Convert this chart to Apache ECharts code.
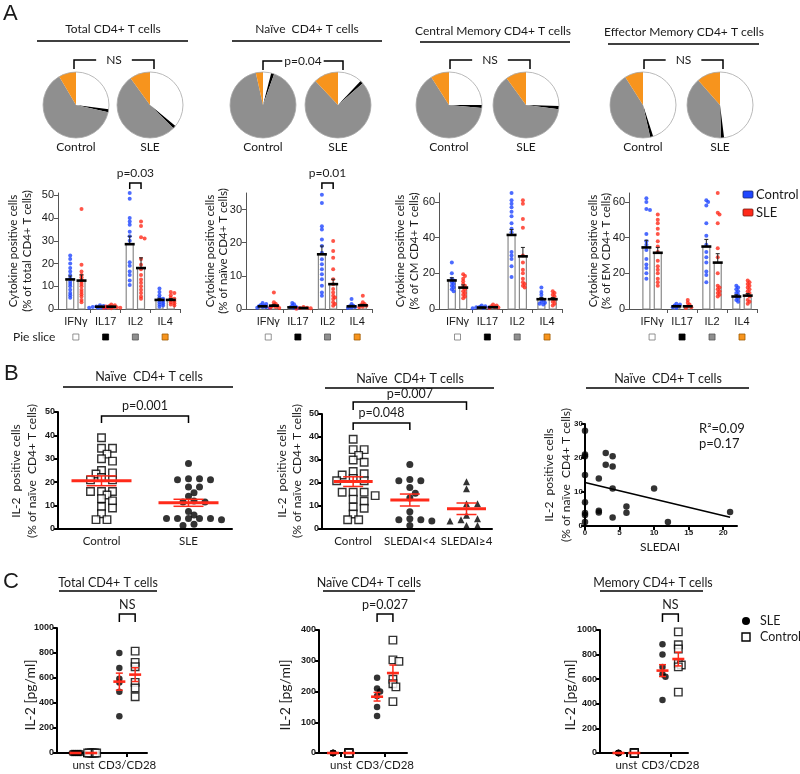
<!DOCTYPE html>
<html><head><meta charset="utf-8">
<script src="https://cdn.jsdelivr.net/npm/echarts@6/dist/echarts.min.js"></script>
<style>html,body{margin:0;padding:0;background:#fff}#c{width:800px;height:774px}</style>
</head><body><div id="c"></div>
<script>
// ---------------- DATA ----------------
const cytokines = ['IFNγ', 'IL17', 'IL2', 'IL4'];
const subsetTitles = ['Total CD4+ T cells', 'Naïve  CD4+ T cells', 'Central Memory CD4+ T cells', 'Effector Memory CD4+ T cells'];
const pieGroupLabels = ['Control', 'SLE'];
// pie fractions (%) in order IFNγ, IL17, IL2, IL4
const pieControl = [[27, 1.5, 63, 8.5], [4, 1.5, 91, 3.5], [25, 1.5, 64.5, 9], [45, 1.5, 44.5, 9]];
const pieSLE = [[36, 1.5, 52.5, 10], [12, 1.5, 74.5, 12], [25.5, 1.5, 63, 10], [48, 1.5, 39, 11.5]];
const piePvalues = ['NS', 'p=0.04', 'NS', 'NS'];

// bar means / SEM per subset [IFNγ, IL17, IL2, IL4]
const barMeanControl = [[13, 1, 28.5, 4], [0.8, 0.5, 16.5, 0.8], [16, 0.8, 41.5, 5.5], [34.5, 1.5, 35, 7]];
const barMeanSLE = [[12.5, 1, 18, 4], [1, 0.3, 7.5, 1.1], [12, 1, 29.5, 5.5], [31.5, 1.5, 26, 7.5]];
const barSemControl = [[1.5, 0.2, 3.5, 0.7], [0.2, 0.2, 2.5, 0.3], [1.5, 0.2, 3, 1], [4, 0.3, 4, 1]];
const barSemSLE = [[2.5, 0.2, 4.5, 0.6], [0.4, 0.1, 1.5, 0.3], [1.5, 0.2, 5, 0.9], [3, 0.4, 5, 1.2]];
const yTitleA = ['(% of total CD4+ T cells)', '(% of naïve CD4+ T cells)', '(% of CM CD4+ T cells)', '(% of EM CD4+ T cells)'];
const barPvalues = ['p=0.03', 'p=0.01', null, null];

const dotsTotalControl = [[23.5, 22, 20, 18, 16.5, 15, 13.5, 12, 11, 10, 8.5, 7, 6, 5], [1.6, 1.3, 1.1, 1, 0.9, 0.8, 0.7, 0.6, 0.5, 0.4], [51, 48.5, 40, 38.5, 37, 34, 32, 30, 20.5, 19, 16.5, 15, 12.5, 10.5], [9, 7.5, 6, 5, 4.5, 4, 3.5, 3, 2.5, 2, 1.5, 1]];
const dotsTotalSLE = [[44, 19.5, 16.5, 15, 14, 13, 12, 11, 10, 8.5, 7.5, 6.5, 5.5, 4, 3], [2, 1.6, 1.3, 1.1, 0.9, 0.8, 0.6, 0.5, 0.4, 0.3], [38.5, 36.5, 31.5, 31, 22, 19.5, 17.5, 15, 13, 11.5, 10, 8.5, 7, 5.5, 4.5], [7.5, 7, 6, 5, 4.5, 4, 3.5, 3, 2.5, 2, 1.5]];
const dotsNaiveControl = [[1.8, 1.5, 1.2, 1, 0.8, 0.6, 0.5, 0.4, 0.3], [1.8, 1.4, 1, 0.7, 0.5, 0.3, 0.2], [34.5, 32, 25, 24, 21, 19, 17, 15, 13.5, 12, 10.5, 9, 7, 5, 4], [3, 1.5, 1, 0.8, 0.6, 0.4, 0.3]];
const dotsNaiveSLE = [[5, 2, 1.6, 1.2, 1, 0.8, 0.6, 0.4, 0.3], [0.6, 0.4, 0.3, 0.2, 0.1], [20.5, 17.5, 15.5, 12, 9, 7.5, 6, 5, 4, 3.5, 3, 2, 1.5, 1], [4, 2, 1.5, 1.2, 1, 0.7, 0.5]];
const dotsCMControl = [[26, 20, 17, 16, 15, 14, 13, 12, 11, 10], [2, 1.5, 1.2, 1, 0.8, 0.6, 0.4], [65, 61, 59, 57, 54.5, 52, 48, 45, 43, 32, 30, 28, 24, 18], [12, 9.5, 8, 6, 5, 4, 3.5, 3, 2.5]];
const dotsCMSLE = [[19.5, 18.5, 17, 15.5, 14, 13, 12, 11, 10, 9, 8, 7, 6], [2.5, 2, 1.5, 1, 0.8, 0.5], [61, 59, 50.5, 45.5, 30, 26, 22, 20, 17, 15, 14, 13, 12], [10, 9, 8, 7, 6, 5, 4, 3, 2]];
const dotsEMControl = [[62, 60, 56, 55.5, 42, 38, 36, 33, 28, 25, 23, 20, 17], [3, 2.5, 2, 1.5, 1, 0.5], [61, 60, 58, 48, 41, 36, 32, 29, 26, 21, 19, 15], [13, 12, 11, 10, 9, 8, 7, 6, 5, 4]];
const dotsEMSLE = [[53, 50, 48, 45, 42, 38, 35, 32, 27, 24, 22, 20, 17, 15, 13], [5, 3.5, 2.5, 1.5, 1, 0.5], [65, 54, 53, 48, 34, 29, 20, 13, 12, 11, 10, 9, 8, 7], [16, 15, 14, 13, 12, 11, 10, 9, 8, 7, 5, 4, 3]];

// Panel B
const bGroups1 = ['Control', 'SLE'];
const bGroups2 = ['Control', 'SLEDAI<4', 'SLEDAI≥4'];
const bControl = [39, 34.5, 34.5, 32, 30, 29, 25, 24, 23.5, 22, 21, 21, 16, 16, 16, 14.5, 13, 12, 9.5, 9, 6.5, 4, 4];
const bSLE = [28, 21.5, 21.5, 21, 21, 18, 18, 15.5, 14, 12, 11.5, 11.5, 7.5, 6, 4.5, 4.5, 4.5, 4.5, 4.5, 4, 2, 1.5];
const bSledaiLow = [28, 21.5, 21, 21, 18, 15.5, 13.5, 7.5, 4.5, 4, 4, 3.5, 1.5];
const bSledaiHigh = [20.5, 17.5, 11, 11, 6, 4.5, 4, 3.5, 1.5, 1.5];
const bMeans1 = [20.6, 11.2], bSem1 = [2.1, 1.5];
const bMeans2 = [20.6, 12.6, 8.8], bSem2 = [2.1, 2.6, 2.5];
const corrSledai = [0, 0, 0, 0, 0, 0, 0, 0, 2, 2, 2, 3, 3, 4, 4, 4, 4, 6, 6, 10, 12, 21];
const corrIL2 = [28, 21, 20.5, 15, 7, 3.8, 3.2, 1.2, 14, 4.5, 4, 21.5, 18, 20.5, 17.5, 11, 2.5, 5.7, 3.9, 11, 1.2, 4.1];
const regIntercept = 12.8, regSlope = -0.486, regXmax = 21;

// Panel C
const cCats = ['unst', 'CD3/CD28'];
const cTitles = ['Total CD4+ T cells', 'Naïve CD4+ T cells', 'Memory CD4+ T cells'];
const cPvalues = ['NS', 'p=0.027', 'NS'];
const cUnstSLE = [[0, 0, 0, 0, 0, 0], [0, 0, 0, 0, 0, 0], [0, 0, 0, 0, 0, 0]];
const cUnstControl = [[0, 0, 0, 0, 0, 0], [0, 0, 0, 0, 0, 0], [0, 0, 0, 0, 0, 0]];
const cStimSLE = [[800, 680, 595, 565, 490, 295], [245, 210, 200, 185, 150, 120], [885, 800, 700, 640, 620, 430]];
const cStimControl = [[815, 725, 690, 565, 520, 450], [367, 303, 298, 240, 225, 215, 167], [985, 880, 845, 730, 715, 700, 495]];
const cMeanSLE = [571, 183, 670], cSemSLE = [68, 14, 48];
const cMeanControl = [627, 260, 764], cSemControl = [55, 26, 56];

// ---------------- STYLE / LAYOUT ----------------
const FT = 'Lato, "Open Sans", sans-serif';
const FA = '"Liberation Sans", Arial, sans-serif';
const BLUE = '#1f46ff', RED = '#ff2a1a';
const PIE_COLORS = ['#ffffff', '#000000', '#8f8f8f', '#f7941d'];

const chart = echarts.init(document.getElementById('c'), null, {renderer: 'canvas', width: 800, height: 774});
const grid = [], xAxis = [], yAxis = [], series = [];

function swarm(vals, pxY, minDist, step) {
  const order = vals.map((v, i) => i).sort((a, b) => vals[b] - vals[a]);
  const placed = [], out = [];
  order.forEach(i => {
    const y = vals[i] * pxY; let x = 0;
    if (step > 0) {
      for (let j = 0; j < 60; j++) {
        const c = j === 0 ? 0 : (j % 2 ? 1 : -1) * Math.ceil(j / 2) * step;
        if (placed.every(p => Math.hypot(p.x - c, p.y - y) >= minDist)) { x = c; break; }
      }
    }
    placed.push({x, y}); out[i] = x;
  });
  return out;
}

function valAxis(gi, min, max, ticks, o) {
  o = o || {};
  return {
    gridIndex: gi, type: 'value', min, max, splitLine: {show: false},
    axisLine: {show: o.line !== false, onZero: false, lineStyle: {color: o.color || '#555', width: o.lw || 1}},
    axisTick: {show: !!o.ticks, customValues: o.ticks || [], length: 4, lineStyle: {color: o.color || '#555', width: o.lw || 1}},
    axisLabel: {show: !!ticks, customValues: ticks || [], formatter: o.fmt || (v => String(v)), fontSize: o.fs || 11, fontWeight: o.bold ? 'bold' : 'normal',
      color: '#1a1a1a', fontFamily: o.ff || FA, margin: o.margin || 5}
  };
}

function renderBarRect(p, api) {
  const x = api.value(0), m = api.value(1);
  const b = api.coord([x, 0]), t = api.coord([x, m]); const w = 7;
  return {type: 'rect', shape: {x: b[0] - w / 2, y: t[1], width: w, height: b[1] - t[1]}, style: {fill: '#fff', stroke: '#8a8a8a', lineWidth: 1.2}};
}
function renderBarMean(p, api) {
  const x = api.value(0), m = api.value(1), s = api.value(2);
  const c = api.coord([x, m]), t = api.coord([x, m + s]); const w = 7;
  return {type: 'group', children: [
    {type: 'line', shape: {x1: c[0], y1: c[1], x2: c[0], y2: t[1]}, style: {stroke: '#222', lineWidth: 1}},
    {type: 'line', shape: {x1: c[0] - 2, y1: t[1], x2: c[0] + 2, y2: t[1]}, style: {stroke: '#222', lineWidth: 1}},
    {type: 'line', shape: {x1: c[0] - w / 2 - 1.5, y1: c[1], x2: c[0] + w / 2 + 1.5, y2: c[1]}, style: {stroke: '#000', lineWidth: 2.6}}
  ]};
}
function meanSem(meanW, capW, lwMean, lwSem) {
  return function (p, api) {
    const x = api.value(0), m = api.value(1), s = api.value(2);
    const c = api.coord([x, m]), t = api.coord([x, m + s]), b = api.coord([x, m - s]);
    const st = () => ({stroke: RED, lineWidth: lwSem});
    return {type: 'group', children: [
      {type: 'line', shape: {x1: c[0], y1: t[1], x2: c[0], y2: b[1]}, style: st()},
      {type: 'line', shape: {x1: c[0] - capW / 2, y1: t[1], x2: c[0] + capW / 2, y2: t[1]}, style: st()},
      {type: 'line', shape: {x1: c[0] - capW / 2, y1: b[1], x2: c[0] + capW / 2, y2: b[1]}, style: st()},
      {type: 'line', shape: {x1: c[0] - meanW / 2, y1: c[1], x2: c[0] + meanW / 2, y2: c[1]}, style: {stroke: RED, lineWidth: lwMean}}
    ]};
  };
}

// ---- Panel A pies ----
const pieCenters = [[76, 105], [150, 105], [263, 105], [338, 105], [449, 105], [526, 105], [643, 105], [720, 105]];
const PIE_R = 33;
for (let k = 0; k < 4; k++) {
  [pieControl[k], pieSLE[k]].forEach((vals, j) => {
    series.push({type: 'pie', center: pieCenters[k * 2 + j], radius: PIE_R, startAngle: 90, clockwise: true, silent: true,
      label: {show: false}, labelLine: {show: false}, emphasis: {disabled: true},
      data: vals.map((v, i) => ({value: v, name: cytokines[i], itemStyle: {color: PIE_COLORS[i], borderWidth: 0}}))});
  });
}

// ---- Panel A bars ----
const aLay = [{left: 58, width: 122, xmin: -0.1}, {left: 246, width: 126, xmin: -0.25}, {left: 439, width: 123, xmin: -0.12}, {left: 629, width: 128, xmin: -0.27}];
const A_TOP = 193, A_H = 116, A_XMAX = 4, BAR_OFF = 0.19;
const aYMax = [51, 35, 65, 65];
const aYTicks = [[0, 10, 20, 30, 40, 50], [0, 10, 20, 30], [0, 20, 40, 60], [0, 20, 40, 60]];
const ctrlDots = [dotsTotalControl, dotsNaiveControl, dotsCMControl, dotsEMControl];
const sleDots = [dotsTotalSLE, dotsNaiveSLE, dotsCMSLE, dotsEMSLE];
aLay.forEach((L, k) => {
  const gi = grid.length;
  grid.push({left: L.left, top: A_TOP, width: L.width, height: A_H});
  xAxis.push(valAxis(gi, L.xmin, A_XMAX, [0.5, 1.5, 2.5, 3.5], {ticks: [1, 2, 3, 4], fmt: v => cytokines[Math.floor(v)], margin: 7}));
  yAxis.push(valAxis(gi, 0, aYMax[k], aYTicks[k], {ticks: aYTicks[k], margin: 4}));
  const unitX = L.width / (A_XMAX - L.xmin), unitY = A_H / aYMax[k];
  [[barMeanControl, barSemControl, ctrlDots, -1, BLUE], [barMeanSLE, barSemSLE, sleDots, 1, RED]].forEach(([M, S, D, sgn, col]) => {
    const data = cytokines.map((c, i) => [i + 0.5 + sgn * BAR_OFF, M[k][i], S[k][i]]);
    series.push({type: 'custom', xAxisIndex: gi, yAxisIndex: gi, renderItem: renderBarRect, data, z: 1, silent: true, encode: {x: 0, y: 1}});
    series.push({type: 'custom', xAxisIndex: gi, yAxisIndex: gi, renderItem: renderBarMean, data, z: 4, silent: true, encode: {x: 0, y: 1}});
    const pts = [];
    D[k].forEach((vals, i) => {
      const off = swarm(vals, unitY, 2.2, 1.8);
      vals.forEach((v, j) => pts.push([i + 0.5 + sgn * BAR_OFF + off[j] / unitX, v]));
    });
    series.push({type: 'scatter', xAxisIndex: gi, yAxisIndex: gi, data: pts, symbol: 'circle', symbolSize: 4, itemStyle: {color: col}, z: 3, silent: true});
  });
});

// ---- Panel B ----
const bAxisOpt = (ticks) => ({ticks, bold: true, fs: 9, lw: 2, color: '#000', margin: 3});
function addGroupScatter(gi, vals, pos, unitX, unitY, symbol, size, filled, minD, step) {
  const off = swarm(vals, unitY, minD, step);
  series.push({type: 'scatter', xAxisIndex: gi, yAxisIndex: gi, silent: true, z: 3, symbol, symbolSize: size,
    itemStyle: filled ? {color: '#000'} : {color: '#fff', borderColor: '#000', borderWidth: 1.4},
    data: vals.map((v, j) => [pos + off[j] / unitX, v])});
}
// B1
{
  const gi = grid.length, W = 174, H = 117, xmin = -0.5, xmax = 1.5;
  grid.push({left: 58, top: 412, width: W, height: H});
  xAxis.push(valAxis(gi, xmin, xmax, [0, 1], {fmt: v => bGroups1[v], ff: FT, fs: 11.5, lw: 2, color: '#000', margin: 6}));
  yAxis.push(valAxis(gi, 0, 50, [0, 10, 20, 30, 40, 50], bAxisOpt([0, 10, 20, 30, 40, 50])));
  const ux = W / (xmax - xmin), uy = H / 50;
  addGroupScatter(gi, bControl, 0, ux, uy, 'rect', 7.5, false, 6.5, 5.5);
  addGroupScatter(gi, bSLE, 1, ux, uy, 'circle', 7, true, 6.5, 5.5);
  series.push({type: 'custom', xAxisIndex: gi, yAxisIndex: gi, silent: true, z: 6, renderItem: meanSem(60, 30, 3, 1.5),
    data: bMeans1.map((m, i) => [i, m, bSem1[i]]), encode: {x: 0, y: 1}});
}
// B2
{
  const gi = grid.length, W = 170, H = 115, xmin = -0.55, xmax = 2.45;
  grid.push({left: 322, top: 414, width: W, height: H});
  xAxis.push(valAxis(gi, xmin, xmax, [0, 1, 2], {fmt: v => bGroups2[v], ff: FT, fs: 11.5, lw: 2, color: '#000', margin: 6}));
  yAxis.push(valAxis(gi, 0, 50, [0, 10, 20, 30, 40, 50], bAxisOpt([0, 10, 20, 30, 40, 50])));
  const ux = W / (xmax - xmin), uy = H / 50;
  addGroupScatter(gi, bControl, 0, ux, uy, 'rect', 7.5, false, 6.5, 5.5);
  addGroupScatter(gi, bSledaiLow, 1, ux, uy, 'circle', 7, true, 6.5, 5.5);
  addGroupScatter(gi, bSledaiHigh, 2, ux, uy, 'triangle', 7, true, 6.5, 5.5);
  series.push({type: 'custom', xAxisIndex: gi, yAxisIndex: gi, silent: true, z: 6, renderItem: meanSem(39, 20, 3, 1.5),
    data: bMeans2.map((m, i) => [i, m, bSem2[i]]), encode: {x: 0, y: 1}});
}
// B3
{
  const gi = grid.length;
  grid.push({left: 585, top: 424, width: 152, height: 102});
  xAxis.push(valAxis(gi, 0, 22, [0, 5, 10, 15, 20], {ticks: [0, 5, 10, 15, 20], bold: true, fs: 8, lw: 2, color: '#000', margin: 3}));
  yAxis.push(valAxis(gi, 0, 30, [0, 10, 20, 30], {ticks: [0, 10, 20, 30], bold: true, fs: 8, lw: 2, color: '#000', margin: 2}));
  series.push({type: 'scatter', xAxisIndex: gi, yAxisIndex: gi, silent: true, z: 3, symbol: 'circle', symbolSize: 6.5, itemStyle: {color: '#000'},
    data: corrSledai.map((x, i) => [x, corrIL2[i]])});
  series.push({type: 'line', xAxisIndex: gi, yAxisIndex: gi, silent: true, z: 2, symbol: 'none', lineStyle: {color: '#000', width: 1.6},
    data: [[0, regIntercept], [regXmax, regIntercept + regSlope * regXmax]]});
}

// ---- Panel C ----
const cLay = [{left: 57, top: 628, width: 90, xmin: -0.6, xmax: 1.45, ymax: 1000, ticks: [0, 200, 400, 600, 800, 1000], unstStep: 1.8},
              {left: 319, top: 630, width: 88, xmin: -0.5, xmax: 1.5, ymax: 400, ticks: [0, 100, 200, 300, 400], unstStep: 0},
              {left: 600, top: 630, width: 88, xmin: -0.6, xmax: 1.4, ymax: 1000, ticks: [0, 200, 400, 600, 800, 1000], unstStep: 0}];
const C_BOTTOM = 753, C_OFF = 0.18;
cLay.forEach((L, k) => {
  const gi = grid.length, H = C_BOTTOM - L.top;
  grid.push({left: L.left, top: L.top, width: L.width, height: H});
  xAxis.push(valAxis(gi, L.xmin, L.xmax, [0, 1], {ticks: [0, 1], fmt: v => cCats[v], ff: FT, fs: 11.5, lw: 2, color: '#000', margin: 6}));
  yAxis.push(valAxis(gi, 0, L.ymax, L.ticks, {ticks: L.ticks, bold: true, fs: 9, lw: 2, color: '#000', margin: 3}));
  const ux = L.width / (L.xmax - L.xmin), uy = H / L.ymax;
  const sleVals = [cUnstSLE[k], cStimSLE[k]], ctlVals = [cUnstControl[k], cStimControl[k]];
  [0, 1].forEach(c => {
    const st = c === 0 ? L.unstStep : 3;
    addGroupScatter(gi, sleVals[c], c - C_OFF, ux, uy, 'circle', 6.5, true, st ? Math.max(st, 3.5) * (c === 0 ? 0.5 : 1) : 0, st);
    addGroupScatter(gi, ctlVals[c], c + C_OFF, ux, uy, 'rect', 7.5, false, st ? Math.max(st, 3.5) * (c === 0 ? 0.5 : 1) : 0, st);
  });
  series.push({type: 'custom', xAxisIndex: gi, yAxisIndex: gi, silent: true, z: 6, renderItem: meanSem(12, 7, 2.6, 1.5), encode: {x: 0, y: 1},
    data: [[0 - C_OFF, 0, 0], [0 + C_OFF, 0, 0], [1 - C_OFF, cMeanSLE[k], cSemSLE[k]], [1 + C_OFF, cMeanControl[k], cSemControl[k]]]});
});

chart.setOption({animation: false, backgroundColor: '#fff', grid, xAxis, yAxis, series});

// ---------------- ANNOTATIONS ----------------
const G = [];
function T(x, y, text, size, extra) {
  extra = extra || {};
  return Object.assign({type: 'text', x, y, z: 20, silent: true,
    style: Object.assign({text, fontSize: size, fontFamily: FT, fill: '#1a1a1a', align: 'center', verticalAlign: 'middle', textAlign: 'center', textVerticalAlign: 'middle'}, extra.style || {})}, extra.el || {});
}
function Ln(x1, y1, x2, y2, w, c) { return {type: 'line', z: 15, silent: true, shape: {x1, y1, x2, y2}, style: {stroke: c || '#000', lineWidth: w || 1.5}}; }
function Br(x1, x2, y, leg, w) { return {type: 'polyline', z: 15, silent: true, shape: {points: [[x1, y + leg], [x1, y], [x2, y], [x2, y + leg]]}, style: {stroke: '#000', lineWidth: w || 1.5, fill: null}}; }
const px = (gi, x, y) => chart.convertToPixel({gridIndex: gi}, [x, y]);

// panel letters
G.push(T(3, 14, 'A', 22, {style: {fontFamily: FA, align: 'left', textAlign: 'left'}}));
G.push(T(4, 374, 'B', 22, {style: {fontFamily: FA, align: 'left', textAlign: 'left'}}));
G.push(T(3, 582, 'C', 22, {style: {fontFamily: FA, align: 'left', textAlign: 'left'}}));

// A titles
const aTitlePos = [[113, 29, 37, 188, 41], [307, 29, 232, 382, 41], [493, 31, 420, 570, 42], [684, 32, 608, 759, 44]];
const pieBr = [[74, 154, 60], [263, 343, 61], [450, 530, 60], [644, 723, 60]];
aTitlePos.forEach((p, k) => {
  G.push(T(p[0], p[1], subsetTitles[k], 12));
  G.push(Ln(p[2], p[4], p[3], p[4], 1.6));
  const b = pieBr[k];
  G.push(Br(b[0], b[1], b[2], 9, 1.5));
  G.push(T((b[0] + b[1]) / 2, b[2], piePvalues[k], 12, {style: {backgroundColor: '#fff', padding: piePvalues[k] === 'NS' ? [1, 10] : [1, 2]}}));
  [0, 1].forEach(j => {
    const c = pieCenters[k * 2 + j];
    G.push({type: 'circle', z: 12, silent: true, shape: {cx: c[0], cy: c[1], r: PIE_R}, style: {fill: null, stroke: '#a8a8a8', lineWidth: 0.8}});
    G.push(T(c[0], 147, pieGroupLabels[j], 12));
  });
});

// A axis titles, pvalues, pie-slice row
const aYT = [[13, 27], [210, 223], [400, 414], [593, 606]];
aLay.forEach((L, k) => {
  G.push(T(aYT[k][0], 251, 'Cytokine positive cells', 11.5, {el: {rotation: Math.PI / 2}}));
  G.push(T(aYT[k][1], 251, yTitleA[k], 11.5, {el: {rotation: Math.PI / 2}}));
  if (barPvalues[k]) {
    const x1 = px(k, 2.5 - BAR_OFF, 0)[0], x2 = px(k, 2.5 + BAR_OFF, 0)[0];
    G.push(Br(x1, x2, 183, 6, 1.5));
    G.push(T((x1 + x2) / 2, 173, barPvalues[k], 12));
  }
  const sq = [['#fff', '#777'], ['#000', '#000'], ['#8f8f8f', '#555'], ['#f7941d', '#a05a00']];
  cytokines.forEach((c, i) => {
    const x = px(k, i + 0.5, 0)[0];
    G.push({type: 'rect', z: 12, silent: true, shape: {x: x - 3, y: 334, width: 6, height: 6}, style: {fill: sq[i][0], stroke: sq[i][1], lineWidth: 0.8}});
  });
});
G.push(T(13, 337, 'Pie slice', 12, {style: {align: 'left', textAlign: 'left'}}));
// A legend
G.push({type: 'rect', z: 12, silent: true, shape: {x: 743, y: 191, width: 10, height: 7, r: 1}, style: {fill: BLUE, stroke: '#1a2a70', lineWidth: 0.8}});
G.push(T(756, 195, 'Control', 13, {style: {align: 'left', textAlign: 'left'}}));
G.push({type: 'rect', z: 12, silent: true, shape: {x: 743, y: 209, width: 10, height: 7, r: 1}, style: {fill: RED, stroke: '#7a1a10', lineWidth: 0.8}});
G.push(T(756, 213, 'SLE', 13, {style: {align: 'left', textAlign: 'left'}}));

// B titles
[[149, 377, 63, 233, 387], [410, 379, 325, 494, 388], [668, 379, 586, 749, 388]].forEach(p => {
  G.push(T(p[0], p[1], 'Naïve  CD4+ T cells', 12.5));
  G.push(Ln(p[2], p[4], p[3], p[4], 1.6));
});
[[16, 32, 471], [282, 297, 471], [549, 566, 475]].forEach(p => {
  G.push(T(p[0], p[2], 'IL-2  positive cells', 12, {el: {rotation: Math.PI / 2}}));
  G.push(T(p[1], p[2], '(% of naïve  CD4+ T cells)', 12, {el: {rotation: Math.PI / 2}}));
});
{
  const a = px(4, 0, 0)[0], b = px(4, 1, 0)[0];
  G.push(Br(a, b, 416, 7, 1.5)); G.push(T((a + b) / 2, 406, 'p=0.001', 12.5));
  const c0 = px(5, 0, 0)[0], c1 = px(5, 1, 0)[0], c2 = px(5, 2, 0)[0];
  G.push(Br(c0, c1, 423, 7, 1.5)); G.push(T((c0 + c1) / 2, 413, 'p=0.048', 12.5));
  G.push(Br(c0, c2, 402, 8, 1.5)); G.push(T((c0 + c2) / 2, 394, 'p=0.007', 12.5));
}
G.push(T(660, 547, 'SLEDAI', 12));
G.push(T(699, 429, 'R²=0.09', 13, {style: {align: 'left', textAlign: 'left'}}));
G.push(T(699, 444, 'p=0.17', 13, {style: {align: 'left', textAlign: 'left'}}));

// C titles etc
[[108, 59, 157], [369, 323, 415], [653, 600, 703]].forEach((p, k) => {
  G.push(T(p[0], 583, cTitles[k], 12.5));
  G.push(Ln(p[1], 591, p[2], 591, 1.6));
  const gi = 7 + k;
  const x1 = px(gi, 1 - C_OFF, 0)[0], x2 = px(gi, 1 + C_OFF, 0)[0];
  G.push(Br(x1, x2, 614, 8, 1.5));
  G.push(T((x1 + x2) / 2, 605, cPvalues[k], 12.5));
});
[30, 285, 570].forEach(x => G.push(T(x, 695, 'IL-2 [pg/ml]', 14, {el: {rotation: Math.PI / 2}})));
G.push({type: 'circle', z: 12, silent: true, shape: {cx: 746, cy: 621, r: 4}, style: {fill: '#000'}});
G.push(T(760, 621, 'SLE', 12.5, {style: {align: 'left', textAlign: 'left'}}));
G.push({type: 'rect', z: 12, silent: true, shape: {x: 742, y: 633, width: 8, height: 8}, style: {fill: '#fff', stroke: '#000', lineWidth: 1.4}});
G.push(T(760, 637, 'Control', 12.5, {style: {align: 'left', textAlign: 'left'}}));

chart.setOption({graphic: G});
</script></body></html>
